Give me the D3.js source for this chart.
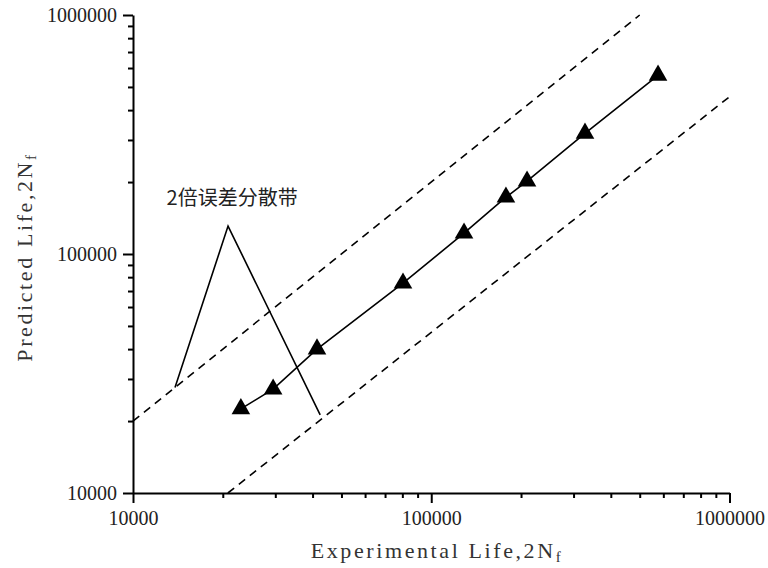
<!DOCTYPE html>
<html>
<head>
<meta charset="utf-8">
<script src="https://cdn.jsdelivr.net/npm/d3@7"></script>
<style>
    body { margin: 0; background: #fff; }
</style>
</head>
<body>
<div id="root"></div>
<script>
// experimental vs predicted life (triangles)
let expLife  = [23000, 29500, 41400, 80400, 128800, 178000, 209500, 327700, 576000];
let predLife = [22500, 27200, 40000, 75500, 122200, 172800, 201600, 320000, 559000];

let majorTicks = [10000, 100000, 1000000];
let minorTicks = [2, 3, 4, 5, 6, 7, 8, 9].flatMap(m => [m * 10000, m * 100000]);

// 2x scatter band, as drawn
let upperBand = [[10000, 20000], [500000, 1000000]];
let lowerBand = [[20800, 10000], [1000000, 455000]];

// annotation: two leader lines from the label to both bands
let noteText = '2倍误差分散带';
let notePoints = [[13830, 27660], [20830, 130900], [42420, 21210]];
let noteLabelAt = [21500, 160000];

let width = 768, height = 568;
let margin = {left: 133, right: 38.5, top: 15, bottom: 75};

let svg = d3.select('#root').append('svg')
    .attr('width', width)
    .attr('height', height);

let x = d3.scaleLog()
    .domain([10000, 1000000])
    .range([margin.left, width - margin.right]);

let y = d3.scaleLog()
    .domain([10000, 1000000])
    .range([height - margin.bottom, margin.top]);

function render() {
    let fmt = d => String(d);

    // minor ticks
    svg.append('g')
        .attr('transform', `translate(0,${y.range()[0]})`)
        .call(d3.axisBottom(x).tickValues(minorTicks).tickSize(5).tickFormat(''))
        .call(g => g.select('.domain').remove());
    svg.append('g')
        .attr('transform', `translate(${x.range()[0]},0)`)
        .call(d3.axisLeft(y).tickValues(minorTicks).tickSize(5).tickFormat(''))
        .call(g => g.select('.domain').remove());

    // major ticks + labels
    let xAxis = svg.append('g')
        .attr('transform', `translate(0,${y.range()[0]})`)
        .call(d3.axisBottom(x).tickValues(majorTicks).tickSize(10).tickSizeOuter(0).tickFormat(fmt));
    xAxis.selectAll('.tick text').attr('dy', '0.9em').attr('y', 14);

    let yAxis = svg.append('g')
        .attr('transform', `translate(${x.range()[0]},0)`)
        .call(d3.axisLeft(y).tickValues(majorTicks).tickSize(10).tickSizeOuter(0).tickFormat(fmt));
    yAxis.selectAll('.tick text').attr('x', -16);

    svg.selectAll('.tick text')
        .attr('font-family', '"Liberation Serif", serif')
        .attr('font-size', 20)
        .attr('fill', '#222');

    svg.selectAll('.domain, .tick line')
        .attr('stroke', '#000')
        .attr('stroke-width', 2);

    // scatter band lines
    let line = d3.line().x(d => x(d[0])).y(d => y(d[1]));
    svg.selectAll('path.band')
        .data([upperBand, lowerBand])
        .enter().append('path')
        .attr('class', 'band')
        .attr('d', line)
        .attr('fill', 'none')
        .attr('stroke', '#000')
        .attr('stroke-width', 1.6)
        .attr('stroke-dasharray', '8,6');

    // data line
    let pts = expLife.map((e, i) => [e, predLife[i]]);
    svg.append('path')
        .attr('d', line(pts))
        .attr('fill', 'none')
        .attr('stroke', '#000')
        .attr('stroke-width', 1.6);

    svg.selectAll('path.tri')
        .data(pts)
        .enter().append('path')
        .attr('class', 'tri')
        .attr('d', d3.symbol(d3.symbolTriangle, 150))
        .attr('transform', d => `translate(${x(d[0])},${y(d[1])})`)
        .attr('fill', '#000');

    // annotation
    svg.append('path')
        .attr('d', line(notePoints))
        .attr('fill', 'none')
        .attr('stroke', '#000')
        .attr('stroke-width', 1.6);

    svg.append('text')
        .attr('x', x(noteLabelAt[0]))
        .attr('y', y(noteLabelAt[1]))
        .attr('text-anchor', 'middle')
        .attr('font-family', '"Noto Sans CJK SC", sans-serif')
        .attr('font-size', 20)
        .attr('fill', '#222')
        .text(noteText);

    // axis titles
    let titleStyle = t => t
        .attr('font-family', '"Liberation Serif", serif')
        .attr('font-size', 22)
        .attr('letter-spacing', 2.6)
        .attr('fill', '#333')
        .attr('text-anchor', 'middle');

    let xt = svg.append('text')
        .attr('x', 437)
        .attr('y', 558)
        .call(titleStyle)
        .text('Experimental Life,2N');
    xt.append('tspan').attr('font-size', 15).attr('dy', 4).text('f');

    let yt = svg.append('text')
        .attr('transform', 'translate(32,257) rotate(-90)')
        .call(titleStyle)
        .text('Predicted Life,2N');
    yt.append('tspan').attr('font-size', 15).attr('dy', 4).text('f');
}

render();
</script>
</body>
</html>
